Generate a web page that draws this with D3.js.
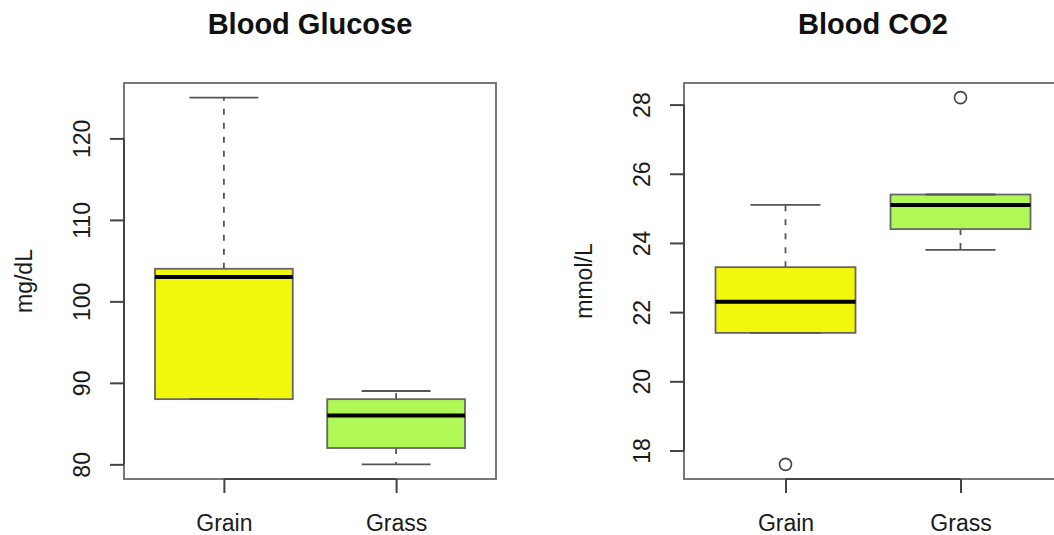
<!DOCTYPE html>
<html>
<head>
<meta charset="utf-8">
<script src="https://cdn.jsdelivr.net/npm/d3@7"></script>
<style>
  html, body { margin: 0; padding: 0; background: #ffffff; overflow: hidden; }
  svg { display: block; font-family: "Liberation Sans", Arial, Helvetica, sans-serif; }
</style>
</head>
<body>
<svg id="chart" width="1054" height="535"></svg>
<script>
// ---------- data ----------
const categories = ["Grain", "Grass"];
const fillColors = ["#f2f80c", "#b0f855"];

// Blood Glucose (mg/dL)
const glucoseLow     = [88, 80];
const glucoseQ1      = [88, 82];
const glucoseMedian  = [103, 86];
const glucoseQ3      = [104, 88];
const glucoseHigh    = [125, 89];
const glucoseOutliers = [[], []];
const glucoseTicks   = [80, 90, 100, 110, 120];

// Blood CO2 (mmol/L)
const co2Low     = [21.4, 23.8];
const co2Q1      = [21.4, 24.4];
const co2Median  = [22.3, 25.1];
const co2Q3      = [23.3, 25.4];
const co2High    = [25.1, 25.4];
const co2Outliers = [[17.6], [28.2]];
const co2Ticks   = [18, 20, 22, 24, 26, 28];

// ---------- drawing ----------
const svg = d3.select("#chart");

function panel(opts) {
  const { left, right, top, bottom, title, ylabel, low, q1, med, q3, high, outliers, ticks } = opts;
  const g = svg.append("g");

  // R-style ranges: 4% extension
  const allVals = low.concat(high, outliers.flat());
  const vmin = d3.min(allVals), vmax = d3.max(allVals);
  const ext = (vmax - vmin) * 0.04;
  const y = d3.scaleLinear().domain([vmin - ext, vmax + ext]).range([bottom, top]);
  const n = categories.length;
  const xe = (n) * 0.04;
  const x = d3.scaleLinear().domain([0.5 - xe, n + 0.5 + xe]).range([left, right]);

  const boxW = x(0.8) - x(0);
  const stapleW = boxW / 2;

  categories.forEach((c, i) => {
    const cx = x(i + 1);
    // whiskers
    g.append("line").attr("x1", cx).attr("x2", cx).attr("y1", y(q3[i])).attr("y2", y(high[i]))
      .attr("stroke", "#555").attr("stroke-width", 1.8).attr("stroke-dasharray", "6,8");
    g.append("line").attr("x1", cx).attr("x2", cx).attr("y1", y(q1[i])).attr("y2", y(low[i]))
      .attr("stroke", "#555").attr("stroke-width", 1.8).attr("stroke-dasharray", "6,8");
    // box
    g.append("rect").attr("x", cx - boxW / 2).attr("y", y(q3[i]))
      .attr("width", boxW).attr("height", y(q1[i]) - y(q3[i]))
      .attr("fill", fillColors[i]).attr("stroke", "#666").attr("stroke-width", 1.8);
    // staples
    [low[i], high[i]].forEach(v => {
      g.append("line").attr("x1", cx - stapleW / 2).attr("x2", cx + stapleW / 2)
        .attr("y1", y(v)).attr("y2", y(v)).attr("stroke", "#555").attr("stroke-width", 1.8);
    });
    // median
    g.append("line").attr("x1", cx - boxW / 2).attr("x2", cx + boxW / 2)
      .attr("y1", y(med[i])).attr("y2", y(med[i])).attr("stroke", "#000").attr("stroke-width", 4);
    // outliers
    outliers[i].forEach(v => {
      g.append("circle").attr("cx", cx).attr("cy", y(v)).attr("r", 6)
        .attr("fill", "none").attr("stroke", "#444").attr("stroke-width", 1.6);
    });
  });

  // frame
  g.append("rect").attr("x", left).attr("y", top).attr("width", right - left).attr("height", bottom - top)
    .attr("fill", "none").attr("stroke", "#777").attr("stroke-width", 2);

  // y axis
  const yAxis = d3.axisLeft(y).tickValues(ticks).tickSize(14).tickSizeOuter(0).tickPadding(0);
  const ya = g.append("g").attr("transform", `translate(${left},0)`).call(yAxis);
  ya.select(".domain").remove();
  ya.append("line").attr("x1", 0).attr("x2", 0)
    .attr("y1", y(ticks[0])).attr("y2", y(ticks[ticks.length - 1]))
    .attr("stroke", "#444").attr("stroke-width", 2);
  ya.selectAll(".tick line").attr("stroke", "#444").attr("stroke-width", 2);
  ya.selectAll(".tick text")
    .attr("x", null).attr("dy", null)
    .attr("transform", "translate(-34,0) rotate(-90)")
    .attr("text-anchor", "middle")
    .attr("fill", "#1a1a1a").attr("font-size", 23)
    .attr("font-family", "'Liberation Sans', Arial, sans-serif");

  // x axis
  const xAxis = d3.axisBottom(x).tickValues(categories.map((c, i) => i + 1))
    .tickFormat((d) => categories[d - 1]).tickSize(14).tickSizeOuter(0).tickPadding(0);
  const xa = g.append("g").attr("transform", `translate(0,${bottom})`).call(xAxis);
  xa.select(".domain").remove();
  xa.append("line").attr("x1", x(1)).attr("x2", x(n)).attr("y1", 0).attr("y2", 0)
    .attr("stroke", "#444").attr("stroke-width", 2);
  xa.selectAll(".tick line").attr("stroke", "#444").attr("stroke-width", 2);
  xa.selectAll(".tick text")
    .attr("y", 52).attr("dy", null)
    .attr("fill", "#1a1a1a").attr("font-size", 23)
    .attr("font-family", "'Liberation Sans', Arial, sans-serif");

  // y label
  svg.append("text")
    .attr("transform", `translate(${left - 92},${(top + bottom) / 2}) rotate(-90)`)
    .attr("text-anchor", "middle").attr("font-size", 23).attr("fill", "#1a1a1a")
    .text(ylabel);

  // title
  svg.append("text")
    .attr("x", (left + right) / 2).attr("y", 34)
    .attr("text-anchor", "middle").attr("font-size", 29).attr("font-weight", "bold").attr("fill", "#111")
    .text(title);
}

panel({ left: 124, right: 496, top: 83, bottom: 479, title: "Blood Glucose", ylabel: "mg/dL",
  low: glucoseLow, q1: glucoseQ1, med: glucoseMedian, q3: glucoseQ3, high: glucoseHigh,
  outliers: glucoseOutliers, ticks: glucoseTicks });

panel({ left: 684, right: 1062, top: 83, bottom: 479, title: "Blood CO2", ylabel: "mmol/L",
  low: co2Low, q1: co2Q1, med: co2Median, q3: co2Q3, high: co2High,
  outliers: co2Outliers, ticks: co2Ticks });
</script>
</body>
</html>
